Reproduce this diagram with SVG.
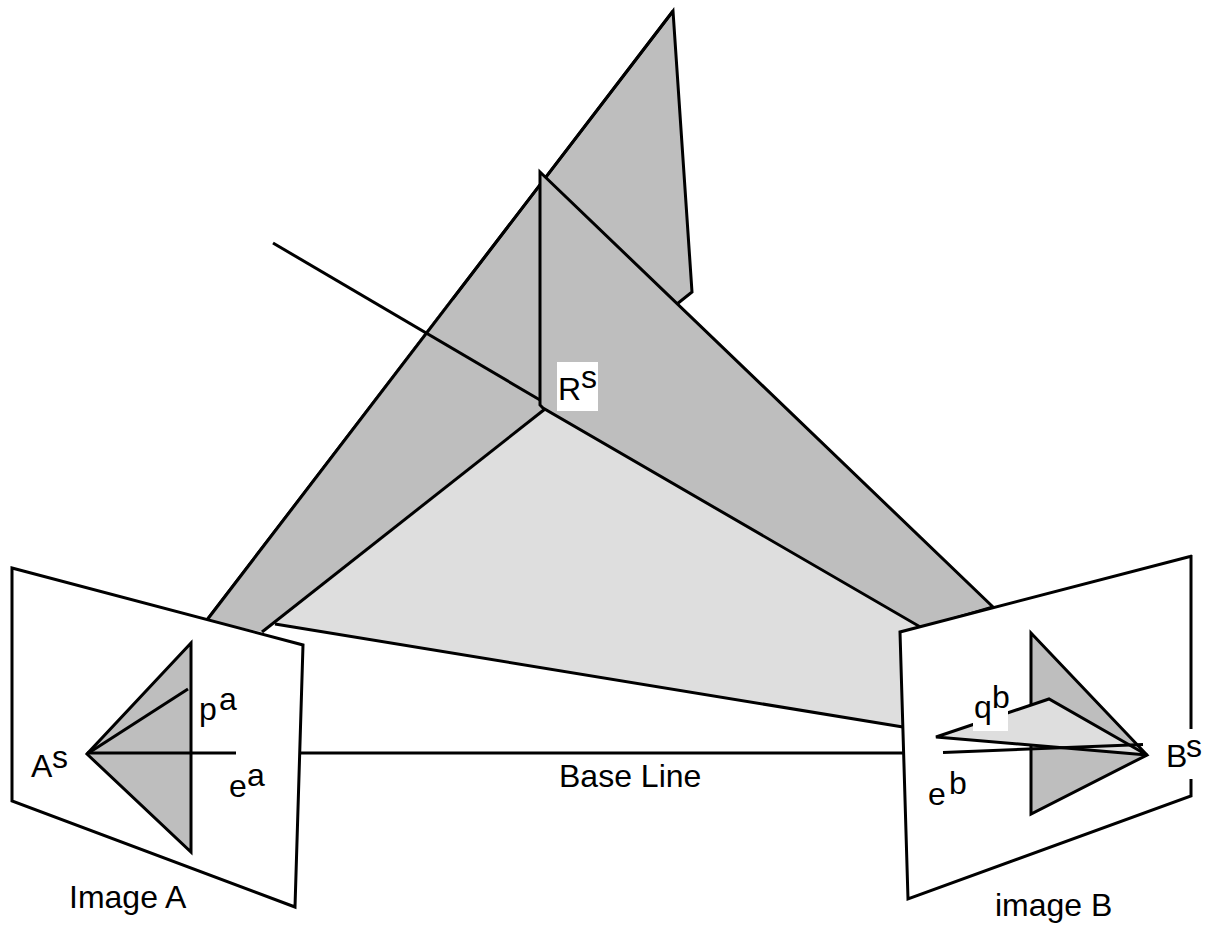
<svg xmlns="http://www.w3.org/2000/svg" width="1208" height="925" viewBox="0 0 1208 925">
<style>
.s{stroke:#000;stroke-width:3;stroke-linejoin:miter;stroke-linecap:butt}
.g{fill:#bebebe}
.l{fill:#dedede}
.w{fill:#fff}
.n{fill:none}
text{font-family:"Liberation Sans",Arial,sans-serif;font-size:32px;fill:#000}
</style>
<rect width="1208" height="925" fill="#fff"/>
<g id="epipolar-planes">
<polygon class="g s" points="673,11 692,292 677,304 500,420 207,620"/>
<polygon class="g" points="207,620 262,632 545,408 540,300 450,300"/>
<polyline class="n s" points="673,11 207,620"/>
<polygon class="l" points="545,410 275,624 903,727 922,628"/>
<polyline class="n s" points="275,624 903,727"/>
<polyline class="n s" points="545,409 262,632"/>
<polygon class="g s" points="540,172 993,607 922,628 543,408 540,405"/>
<line class="s" x1="273" y1="243" x2="540" y2="400"/>
</g>
<g id="image-a">
<polygon class="w s" points="12,568 303,645 295,907 12,801"/>
<polygon class="g s" points="191,643 87,754 191,852"/>
<line class="s" x1="87" y1="754" x2="188" y2="689"/>
<line class="s" x1="87" y1="753" x2="236" y2="753"/>
</g>
<g id="connectors">
<line class="s" x1="301" y1="753" x2="905" y2="753"/>
</g>
<g id="image-b">
<polygon class="w" points="900,632 1191,557 1191,796 908,899"/>
<polyline class="n s" points="1191,555 1191,796 908,899 900,632 1192,556"/>
<polygon class="g s" points="1031,633 1147,755 1031,814"/>
<polygon class="l s" points="936,737 1049,699 1147,755"/>
<line class="s" x1="943" y1="752.500" x2="1143" y2="744.500"/>
<rect class="w" x="973" y="692" width="35" height="39"/>
<rect class="w" x="1158" y="729" width="42" height="50"/>
</g>
<g id="labels">
<rect class="w" x="557" y="362" width="41" height="49"/>
<text x="558" y="400">R</text><text x="581" y="388">s</text>
<text x="559" y="787">Base Line</text>
<text x="31" y="777">A</text><text x="52" y="768">s</text>
<text x="199" y="720">p</text><text x="219" y="710">a</text>
<text x="229" y="797">e</text><text x="247" y="786">a</text>
<text x="69" y="908">Image A</text>
<text x="974" y="718">q</text><text x="992" y="708">b</text>
<text x="928" y="805">e</text><text x="949" y="794">b</text>
<text x="1166" y="767">B</text><text x="1186" y="757">s</text>
<text x="995" y="916">image B</text>
</g>
</svg>
